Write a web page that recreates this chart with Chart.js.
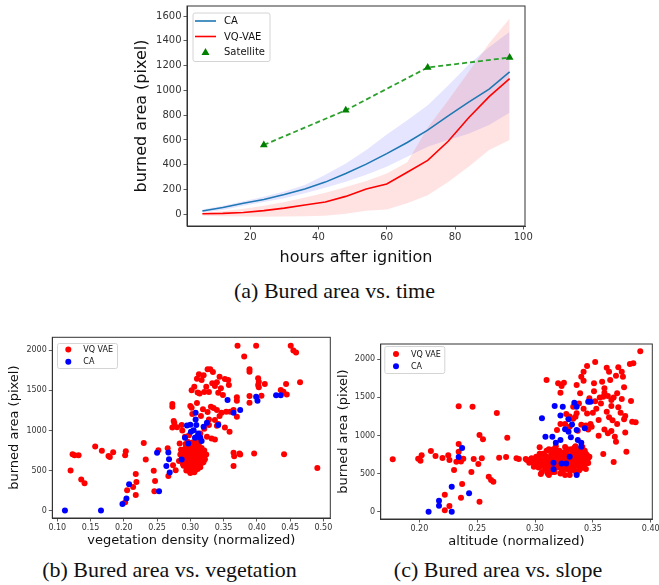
<!DOCTYPE html>
<html>
<head>
<meta charset="utf-8">
<script src="https://cdn.jsdelivr.net/npm/chart.js@4.4.1/dist/chart.umd.min.js"></script>
<style>
  html, body { margin: 0; padding: 0; background: #fff; }
  #page { position: relative; width: 659px; height: 585px; overflow: hidden; background: #fff; }
  canvas { position: absolute; }
  .cap { position: absolute; font-family: "Liberation Serif", "Times New Roman", serif; font-size: 22px; line-height: 24px; color: #111; text-align: center; white-space: nowrap; }
</style>
</head>
<body>
<div id="page">
  <canvas id="timeChart" width="420" height="270" style="left:120px; top:0px;"></canvas>
  <canvas id="vegChart" width="335" height="225" style="left:0px; top:330px;"></canvas>
  <canvas id="altChart" width="324" height="225" style="left:335px; top:330px;"></canvas>
  <div class="cap" style="left:100px; width:469px; top:279px;">(a) Bured area vs. time</div>
  <div class="cap" style="left:0px; width:339px; top:558px;">(b) Bured area vs. vegetation</div>
  <div class="cap" style="left:340px; width:316px; top:558px;">(c) Bured area vs. slope</div>
</div>
<script>
// (a) burned area over time
const hours = [6, 12, 18, 24, 30, 36, 42, 48, 54, 60, 66, 72, 78, 84, 90, 96];
const caMean = [27, 55, 90, 120, 160, 205, 260, 330, 405, 490, 580, 680, 795, 905, 1010, 1150];
const caUpper = [40, 70, 105, 142, 185, 237, 320, 411, 520, 645, 760, 880, 1040, 1210, 1350, 1474];
const caLower = [15, 35, 70, 100, 130, 170, 215, 264, 320, 385, 465, 546, 600, 650, 720, 820];
const vqMean = [5, 8, 15, 30, 50, 75, 100, 145, 205, 245, 340, 435, 590, 780, 950, 1095];
const vqUpper = [10, 25, 45, 70, 100, 135, 175, 220, 270, 330, 420, 700, 920, 1150, 1380, 1580];
const vqLower = [-12, -15, -18, -20, -18, -15, -12, 5, 30, 40, 90, 155, 260, 385, 520, 600];
const satHours = [24, 48, 72, 96];
const satArea = [560, 840, 1185, 1265];
const hourTicks = [20, 40, 60, 80, 100];
const areaTicks = [0, 200, 400, 600, 800, 1000, 1200, 1400, 1600];

// (b) burned area vs vegetation density  [x, y]
const vegVq = [
  [0.120, 500], [0.123, 704], [0.126, 690], [0.132, 690], [0.136, 388], [0.141, 342], [0.157, 800], [0.167, 746],
  [0.177, 680], [0.179, 670], [0.184, 729], [0.202, 690], [0.203, 742], [0.205, 254], [0.202, 104], [0.214, 296],
  [0.218, 196], [0.219, 358], [0.218, 458], [0.230, 842], [0.233, 637], [0.245, 496], [0.247, 371], [0.246, 242],
  [0.252, 754], [0.266, 779], [0.267, 433], [0.273, 1329], [0.273, 1296], [0.275, 1117], [0.276, 1092], [0.273, 1038],
  [0.280, 1040], [0.274, 567], [0.278, 504], [0.284, 838],
  [0.287, 1067], [0.288, 1000], [0.292, 921], [0.298, 940], [0.300, 1304], [0.302, 1283], [0.310, 1342], [0.303, 1204],
  [0.310, 1646], [0.313, 1700], [0.317, 1629], [0.320, 1688], [0.326, 1763], [0.330, 1763], [0.334, 1729], [0.321, 1479],
  [0.324, 1546], [0.328, 1479], [0.333, 1588], [0.337, 1554], [0.340, 1600], [0.342, 1471], [0.344, 1671], [0.346, 1525],
  [0.349, 1442], [0.352, 1642], [0.357, 1629], [0.358, 1567], [0.311, 1475], [0.314, 1460], [0.306, 1546], [0.302, 1500],
  [0.335, 1279], [0.340, 1254], [0.331, 1296], [0.326, 1229], [0.319, 1263], [0.316, 1179], [0.328, 1138], [0.337, 1129],
  [0.342, 1079], [0.344, 1179], [0.347, 1221], [0.354, 1233], [0.360, 1233], [0.352, 1038], [0.359, 983], [0.325, 921],
  [0.332, 900], [0.337, 888], [0.315, 963], [0.321, 1021], [0.328, 1067], [0.340, 1060],
  [0.370, 1371], [0.370, 1413], [0.370, 1171], [0.365, 1254], [0.371, 2058], [0.381, 1921], [0.399, 2058], [0.389, 1763],
  [0.389, 1733], [0.389, 1429], [0.389, 1346], [0.402, 1650], [0.403, 1608], [0.402, 1567], [0.403, 1538], [0.407, 1433],
  [0.412, 1579], [0.365, 721], [0.366, 679], [0.374, 713], [0.375, 700], [0.365, 558], [0.396, 713], [0.441, 704],
  [0.451, 2058], [0.455, 1996], [0.459, 1971], [0.444, 1579], [0.436, 1504], [0.440, 1483], [0.445, 1450], [0.465, 1600],
  [0.491, 533],
  [0.285, 700], [0.288, 650], [0.290, 600], [0.290, 560], [0.292, 720], [0.293, 680], [0.294, 620], [0.295, 760],
  [0.295, 540], [0.296, 700], [0.297, 650], [0.298, 590], [0.298, 820], [0.299, 730], [0.300, 680], [0.300, 520],
  [0.301, 620], [0.302, 780], [0.302, 700], [0.303, 560], [0.304, 650], [0.305, 740], [0.305, 600], [0.306, 690],
  [0.307, 500], [0.307, 820], [0.308, 640], [0.309, 720], [0.310, 580], [0.311, 670], [0.312, 760], [0.313, 620],
  [0.314, 700], [0.315, 540], [0.316, 660], [0.318, 730], [0.319, 600], [0.320, 690], [0.322, 640], [0.324, 700],
  [0.289, 760], [0.291, 640], [0.296, 860], [0.303, 850], [0.306, 480], [0.300, 470], [0.294, 500], [0.283, 620],
  [0.286, 760], [0.309, 800], [0.313, 840], [0.317, 780], [0.321, 750], [0.311, 520], [0.297, 570], [0.304, 710],
  [0.299, 660], [0.301, 740], [0.308, 690], [0.312, 600],
  [0.287, 680], [0.289, 580], [0.291, 700], [0.292, 620], [0.293, 780], [0.294, 560], [0.296, 620], [0.297, 740],
  [0.298, 680], [0.299, 560], [0.300, 760], [0.301, 680], [0.302, 600], [0.303, 720], [0.304, 540], [0.305, 680],
  [0.306, 760], [0.307, 600], [0.308, 560], [0.309, 660], [0.310, 740], [0.311, 600], [0.312, 680], [0.314, 620],
  [0.315, 760], [0.316, 590], [0.318, 660], [0.320, 610], [0.293, 830], [0.305, 820], [0.310, 860], [0.301, 500],
  [0.297, 500], [0.304, 490]
];
const vegCa = [
  [0.1115, 0], [0.1657, 0], [0.198, 83], [0.204, 150], [0.208, 329], [0.250, 721], [0.253, 242], [0.267, 725],
  [0.268, 642], [0.264, 558], [0.269, 475], [0.287, 638], [0.292, 908], [0.297, 838], [0.301, 983], [0.295, 1063],
  [0.300, 1071], [0.308, 1221], [0.308, 1138], [0.309, 1067], [0.305, 1004], [0.312, 963], [0.315, 913], [0.317, 867],
  [0.307, 908], [0.320, 1046], [0.325, 1096], [0.342, 1067], [0.356, 1379], [0.365, 1221], [0.375, 1254], [0.399, 1421],
  [0.401, 1371], [0.429, 1438], [0.436, 1438], [0.310, 921]
];
const vegTicks = [0.10, 0.15, 0.20, 0.25, 0.30, 0.35, 0.40, 0.45, 0.50];

// (c) burned area vs altitude  [x, y]
const altVq = [
  [0.177, 687], [0.199, 696], [0.201, 670], [0.202, 740], [0.210, 796], [0.214, 731], [0.220, 705], [0.222, 223],
  [0.222, 18], [0.226, 74], [0.225, 740], [0.226, 678], [0.230, 547], [0.232, 656], [0.234, 788], [0.234, 888],
  [0.234, 1383], [0.236, 184], [0.237, 363], [0.238, 696], [0.236, 660], [0.245, 521], [0.246, 1378], [0.247, 691],
  [0.251, 626], [0.252, 1006], [0.255, 950], [0.254, 700], [0.252, 131], [0.260, 460], [0.262, 416], [0.264, 394],
  [0.267, 1295], [0.269, 709], [0.275, 718], [0.276, 971], [0.284, 700], [0.286, 691], [0.293, 678], [0.295, 643],
  [0.299, 591], [0.305, 494], [0.304, 845],
  [0.310, 1728], [0.320, 1685], [0.322, 1562], [0.323, 1650], [0.325, 1694], [0.327, 1282], [0.329, 1225], [0.333, 1378],
  [0.335, 1247], [0.336, 1663], [0.336, 1291], [0.337, 1063], [0.339, 1553], [0.340, 1772], [0.342, 1838], [0.342, 1720],
  [0.345, 1912], [0.347, 1488], [0.351, 1685], [0.352, 1965], [0.351, 1580], [0.349, 1116], [0.353, 1352], [0.355, 1203],
  [0.355, 998], [0.358, 1707], [0.359, 1510], [0.360, 1619], [0.362, 1890], [0.364, 1838], [0.365, 1729], [0.362, 1313],
  [0.364, 1238], [0.366, 1466], [0.367, 1200], [0.369, 985], [0.370, 919], [0.368, 652], [0.359, 757], [0.366, 1387],
  [0.370, 1785], [0.371, 1553], [0.372, 1895], [0.375, 1479], [0.375, 1838], [0.376, 1772], [0.377, 1632], [0.377, 1212],
  [0.378, 1041], [0.378, 1256], [0.379, 788], [0.382, 1938], [0.383, 1453], [0.385, 1947], [0.384, 1181], [0.387, 1173],
  [0.391, 2105],
  [0.319, 1072], [0.330, 1116], [0.322, 1150], [0.340, 1140], [0.344, 1130], [0.346, 1080], [0.348, 1150], [0.356, 1500],
  [0.352, 1450], [0.357, 1420], [0.360, 1560], [0.363, 1520], [0.368, 1500], [0.372, 1370], [0.374, 1300], [0.360, 1080],
  [0.363, 1030], [0.366, 1060], [0.371, 1150], [0.338, 1420], [0.342, 1350], [0.345, 1290], [0.350, 1300], [0.330, 1250],
  [0.326, 1150], [0.333, 1220],
  [0.302, 640], [0.304, 700], [0.306, 600], [0.307, 760], [0.308, 680], [0.309, 560], [0.310, 720], [0.311, 640],
  [0.312, 820], [0.313, 600], [0.314, 700], [0.315, 520], [0.316, 660], [0.317, 760], [0.318, 620], [0.319, 700],
  [0.320, 580], [0.321, 800], [0.322, 660], [0.323, 720], [0.324, 540], [0.325, 680], [0.326, 620], [0.327, 760],
  [0.328, 700], [0.329, 580], [0.330, 660], [0.331, 820], [0.332, 620], [0.333, 720], [0.334, 540], [0.335, 680],
  [0.336, 760], [0.337, 600], [0.338, 700], [0.339, 820], [0.340, 640], [0.341, 720], [0.342, 580], [0.343, 680],
  [0.344, 760], [0.345, 640], [0.312, 480], [0.318, 860], [0.326, 480], [0.336, 500], [0.341, 850], [0.305, 660],
  [0.321, 700], [0.327, 640], [0.333, 660], [0.339, 560], [0.323, 600], [0.315, 640], [0.329, 740], [0.334, 780],
  [0.308, 740], [0.300, 680], [0.297, 700], [0.346, 700], [0.343, 620],
  [0.303, 580], [0.304, 760], [0.306, 520], [0.307, 640], [0.309, 660], [0.310, 800], [0.311, 560], [0.313, 680],
  [0.314, 760], [0.316, 580], [0.317, 520], [0.318, 700], [0.319, 800], [0.320, 640], [0.322, 760], [0.323, 520],
  [0.324, 660], [0.325, 780], [0.326, 700], [0.327, 560], [0.328, 820], [0.329, 660], [0.330, 540], [0.331, 700],
  [0.332, 760], [0.333, 590], [0.334, 840], [0.335, 620], [0.336, 700], [0.337, 800], [0.338, 540], [0.339, 680],
  [0.340, 760], [0.341, 600], [0.342, 700], [0.343, 800], [0.344, 560], [0.345, 740], [0.346, 640], [0.347, 720],
  [0.301, 720], [0.300, 620], [0.298, 650], [0.296, 680], [0.292, 690], [0.311, 500], [0.322, 500], [0.330, 480],
  [0.335, 860], [0.326, 850], [0.316, 820], [0.309, 610], [0.320, 740], [0.337, 660], [0.343, 720]
];
const altCa = [
  [0.208, 0], [0.228, 0], [0.217, 144], [0.217, 79], [0.228, 328], [0.243, 241], [0.234, 718], [0.237, 836],
  [0.306, 1225], [0.309, 985], [0.315, 985], [0.317, 1387], [0.318, 906], [0.322, 941], [0.324, 1378], [0.322, 1264],
  [0.326, 1081], [0.329, 1050], [0.329, 1212], [0.332, 1146], [0.331, 976], [0.334, 1430], [0.336, 1378], [0.336, 1072],
  [0.343, 1094], [0.337, 941], [0.340, 906], [0.340, 853], [0.346, 1444], [0.348, 1444], [0.330, 722], [0.323, 634],
  [0.327, 634], [0.316, 643], [0.316, 556], [0.336, 481]
];
const altTicks = [0.20, 0.25, 0.30, 0.35, 0.40];
const scatterYTicks = [0, 500, 1000, 1500, 2000];

const xy = (xs, ys) => xs.map((x, i) => ({ x: x, y: ys[i] }));
const pts = (arr) => arr.map((p) => ({ x: p[0], y: p[1] }));

// matplotlib-like box round the plot
const frame = {
  id: "frame",
  afterDatasetsDraw(chart) {
    const { ctx, chartArea: a } = chart;
    ctx.save();
    ctx.strokeStyle = "#333";
    ctx.lineWidth = 1;
    ctx.strokeRect(a.left, a.top, a.right - a.left, a.bottom - a.top);
    ctx.restore();
  },
};

// legend drawn inside the plot area
const insideLegend = {
  id: "insideLegend",
  afterDraw(chart, args, o) {
    if (!o || !o.items) return;
    const { ctx, chartArea: a } = chart;
    const bx = a.left + o.left;
    const by = a.top + o.top;
    ctx.save();
    ctx.fillStyle = "rgba(255,255,255,0.85)";
    ctx.strokeStyle = "#d4d4d4";
    ctx.lineWidth = 1;
    ctx.beginPath();
    ctx.roundRect(bx + 0.5, by + 0.5, o.width, o.height, 2);
    ctx.fill();
    ctx.stroke();
    ctx.font = o.fontSize + "px 'DejaVu Sans'";
    ctx.textBaseline = "middle";
    o.items.forEach((idx, i) => {
      const ds = chart.data.datasets[idx];
      const y = by + o.firstRow + i * o.rowGap;
      const hx = bx + o.handleX;
      if (ds.pointStyle === "triangle") {
        const r = 4;
        ctx.fillStyle = ds.pointBackgroundColor;
        ctx.beginPath();
        ctx.moveTo(hx, y - r);
        ctx.lineTo(hx + r, y + r * 0.75);
        ctx.lineTo(hx - r, y + r * 0.75);
        ctx.closePath();
        ctx.fill();
      } else if (ds.showLine === false) {
        ctx.fillStyle = ds.backgroundColor;
        ctx.beginPath();
        ctx.arc(hx, y, ds.pointRadius, 0, Math.PI * 2);
        ctx.fill();
      } else {
        ctx.strokeStyle = ds.borderColor;
        ctx.lineWidth = ds.borderWidth;
        ctx.beginPath();
        ctx.moveTo(hx - o.handleLen / 2, y);
        ctx.lineTo(hx + o.handleLen / 2, y);
        ctx.stroke();
      }
      ctx.fillStyle = "#111";
      ctx.fillText(ds.label, bx + o.textX, y + 0.5);
    });
    ctx.restore();
  },
};

const axis = (o) => ({
  type: "linear",
  position: o.pos,
  min: o.min,
  max: o.max,
  afterBuildTicks: (s) => {
    s.ticks = o.ticks.map((value) => ({ value: value }));
  },
  afterFit: (s) => {
    if (o.pos === "left") {
      s.width = o.size;
      s.paddingTop = 0;
      s.paddingBottom = 0;
    } else {
      s.height = o.size;
      s.paddingLeft = 0;
      s.paddingRight = 0;
    }
  },
  grid: { drawOnChartArea: false, drawTicks: true, tickLength: 3.5, color: "#333", lineWidth: 0.8 },
  border: { display: true, color: "#333", width: 1 },
  ticks: {
    color: "#333",
    padding: 2,
    autoSkip: false,
    maxRotation: 0,
    font: { family: "DejaVu Sans", size: o.tickSize },
    callback: o.fmt || ((v) => v),
  },
  title: {
    display: true,
    text: o.title,
    color: "#111",
    font: { family: "DejaVu Sans", size: o.titleSize, lineHeight: 1.2 },
    padding: o.titlePad,
  },
});

const initTimeChart = () => {
  const canvas = document.getElementById("timeChart");
  return new Chart(canvas, {
    type: "line",
    data: {
      datasets: [
        { label: "caLow", data: xy(hours, caLower), borderWidth: 0, pointRadius: 0, fill: false, order: 5 },
        { label: "caHigh", data: xy(hours, caUpper), borderWidth: 0, pointRadius: 0, fill: 0, backgroundColor: "rgba(0,0,255,0.1)", order: 5 },
        { label: "vqLow", data: xy(hours, vqLower), borderWidth: 0, pointRadius: 0, fill: false, order: 4 },
        { label: "vqHigh", data: xy(hours, vqUpper), borderWidth: 0, pointRadius: 0, fill: 2, backgroundColor: "rgba(255,0,0,0.11)", order: 4 },
        { label: "CA", data: xy(hours, caMean), borderColor: "#1f77b4", borderWidth: 1.6, pointRadius: 0, fill: false, order: 2 },
        { label: "VQ-VAE", data: xy(hours, vqMean), borderColor: "#ff0000", borderWidth: 1.6, pointRadius: 0, fill: false, order: 1 },
        {
          label: "Satellite",
          data: xy(satHours, satArea),
          borderColor: "#2ca02c",
          borderWidth: 1.8,
          borderDash: [5, 3],
          pointStyle: "triangle",
          pointRadius: 4.5,
          pointBackgroundColor: "#008000",
          pointBorderColor: "#008000",
          pointBorderWidth: 0,
          fill: false,
          order: 0,
        },
      ],
    },
    options: {
      responsive: false,
      animation: false,
      devicePixelRatio: 1,
      elements: { line: { tension: 0 } },
      layout: { padding: { left: 0, top: 6, right: 15, bottom: 0 } },
      scales: {
        x: axis({ pos: "bottom", min: 1.5, max: 100.5, ticks: hourTicks, size: 44, tickSize: 10, title: "hours after ignition", titleSize: 16, titlePad: { top: 0, bottom: 3 } }),
        y: axis({ pos: "left", min: -94, max: 1681, ticks: areaTicks, size: 67, tickSize: 10, title: "burned area (pixel)", titleSize: 16, titlePad: { top: 12.4, bottom: 0 } }),
      },
      plugins: {
        legend: { display: false },
        tooltip: { enabled: false },
        insideLegend: { left: 5.5, top: 6.5, width: 77, height: 48.5, firstRow: 8.5, rowGap: 15.5, handleX: 13, handleLen: 21, textX: 31.5, fontSize: 10, items: [4, 5, 6] },
      },
    },
    plugins: [frame, insideLegend],
  });
};

const initScatter = (id, vq, ca, o) => {
  const canvas = document.getElementById(id);
  return new Chart(canvas, {
    type: "scatter",
    data: {
      datasets: [
        { label: "VQ VAE", data: pts(vq), backgroundColor: "#ff0000", pointRadius: 3, pointBorderWidth: 0, showLine: false, order: 1 },
        { label: "CA", data: pts(ca), backgroundColor: "#0000ff", pointRadius: 3, pointBorderWidth: 0, showLine: false, order: 0 },
      ],
    },
    options: {
      responsive: false,
      animation: false,
      devicePixelRatio: 1,
      layout: { padding: { left: 0, top: o.top, right: o.right, bottom: 0 } },
      scales: {
        x: axis({ pos: "bottom", min: o.xmin, max: o.xmax, ticks: o.xticks, size: o.xsize, tickSize: 8, title: o.xtitle, titleSize: 13, titlePad: { top: 0, bottom: o.xtitlePad }, fmt: (v) => v.toFixed(2) }),
        y: axis({ pos: "left", min: o.ymin, max: o.ymax, ticks: scatterYTicks, size: o.ysize, tickSize: 8, title: "burned area (pixel)", titleSize: 13, titlePad: { top: o.ytitlePad, bottom: 0 } }),
      },
      plugins: {
        legend: { display: false },
        tooltip: { enabled: false },
        insideLegend: o.legend,
      },
    },
    plugins: [frame, insideLegend],
  });
};

window.onload = () => {
  initTimeChart();

  initScatter("vegChart", vegVq, vegCa, {
    top: 7.3, right: 4.7, xsize: 37, ysize: 52.3,
    xmin: 0.0925, xmax: 0.5105, ymin: -92, ymax: 2162,
    xticks: vegTicks, xtitle: "vegetation density (normalized)",
    xtitlePad: 6.2, ytitlePad: 7.2,
    legend: { left: 4.7, top: 5.7, width: 60, height: 25, firstRow: 6.5, rowGap: 12.2, handleX: 11.3, textX: 26.3, fontSize: 8, items: [0, 1] },
  });

  initScatter("altChart", altVq, altCa, {
    top: 14, right: 6.7, xsize: 36, ysize: 45.7,
    xmin: 0.1666, xmax: 0.4014, ymin: -96, ymax: 2201,
    xticks: altTicks, xtitle: "altitude (normalized)",
    xtitlePad: 5.2, ytitlePad: 0.5,
    legend: { left: 3.6, top: 2, width: 60, height: 27, firstRow: 8, rowGap: 12.2, handleX: 11.7, textX: 26.7, fontSize: 8, items: [0, 1] },
  });
};
</script>
</body>
</html>
